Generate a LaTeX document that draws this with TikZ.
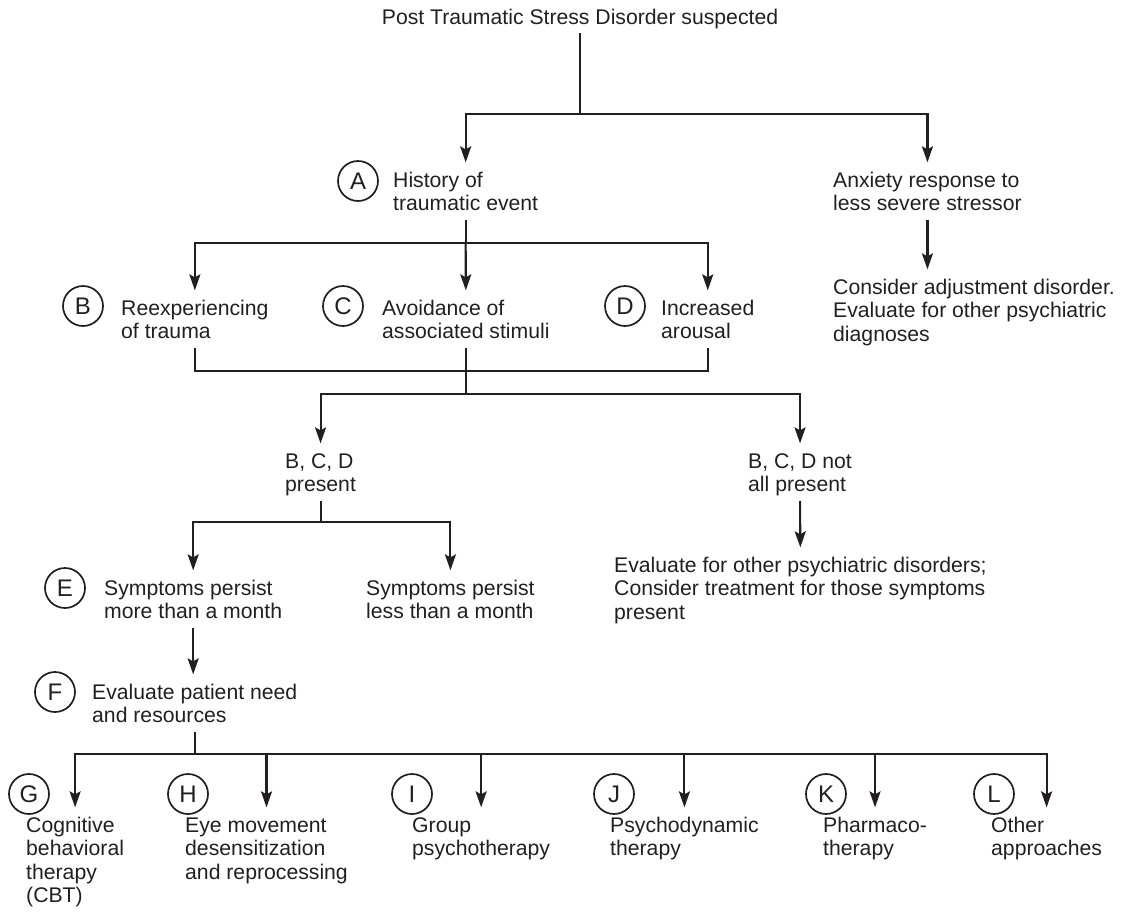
\documentclass[tikz,border=0pt]{standalone}
\usepackage{fontspec}
\setmainfont{Liberation Sans}
\usetikzlibrary{arrows.meta}
\definecolor{ink}{HTML}{231F20}
% left-aligned block of lines whose baseline is that of its first line
\newcommand{\lines}[1]{\begin{tabular}[t]{@{}l@{}}#1\end{tabular}}
\begin{document}
\begin{tikzpicture}[x=1pt,y=-1pt,
  every node/.style={font=\fontsize{21.2}{23.5}\selectfont, text=ink},
  txt/.style={anchor=base west, inner xsep=0pt, inner ysep=2pt},
  lbl/.style={circle, draw=ink, line width=1.7pt, minimum size=40pt, inner sep=0pt,
              font=\fontsize{24}{26}\selectfont},
  link/.style={draw=ink, line width=2.1pt},
  arr/.style={link, shorten >=6pt, -{Stealth[length=16pt,width=11pt,inset=3pt]}}]

\useasboundingbox (0,0) rectangle (1122,911);

% ---- texts ----
\node[txt, anchor=base] (title) at (580,24) {\lines{Post Traumatic Stress Disorder suspected}};

\node[txt] (hist)  at (393,187) {\lines{History of\\traumatic event}};
\node[txt] (anx)   at (833,187) {\lines{Anxiety response to\\less severe stressor}};
\node[txt] (adj)   at (833,294) {\lines{Consider adjustment disorder.\\Evaluate for other psychiatric\\diagnoses}};

\node[txt] (reexp) at (121,315) {\lines{Reexperiencing\\of trauma}};
\node[txt] (avoid) at (382,315) {\lines{Avoidance of\\associated stimuli}};
\node[txt] (arous) at (661,315) {\lines{Increased\\arousal}};

\node[txt] (pres)   at (285,468) {\lines{B, C, D\\present}};
\node[txt] (notall) at (748,468) {\lines{B, C, D not\\all present}};

\node[txt] (more)  at (104,595) {\lines{Symptoms persist\\more than a month}};
\node[txt] (less)  at (366,595) {\lines{Symptoms persist\\less than a month}};
\node[txt] (other) at (614,572) {\lines{Evaluate for other psychiatric disorders;\\Consider treatment for those symptoms\\present}};

\node[txt] (need)  at (92,699) {\lines{Evaluate patient need\\and resources}};

\node[txt] (cbt)     at (26,832)  {\lines{Cognitive\\behavioral\\therapy\\(CBT)}};
\node[txt] (emdr)    at (185,832) {\lines{Eye movement\\desensitization\\and reprocessing}};
\node[txt] (group)   at (412,832) {\lines{Group\\psychotherapy}};
\node[txt] (psy)     at (610,832) {\lines{Psychodynamic\\therapy}};
\node[txt] (pharm)   at (823,832) {\lines{Pharmaco-\\therapy}};
\node[txt] (otherap) at (991,832) {\lines{Other\\approaches}};

% ---- letter markers ----
\node[lbl] (cA) at (358,181) {A};
\node[lbl] (cB) at (83,306)  {B};
\node[lbl] (cC) at (343,306) {C};
\node[lbl] (cD) at (625,306) {D};
\node[lbl] (cE) at (65,588)  {E};
\node[lbl] (cF) at (55,692)  {F};
\node[lbl] (cG) at (29,794)  {G};
\node[lbl] (cH) at (188,794) {H};
\node[lbl] (cI) at (412,794) {I};
\node[lbl] (cJ) at (614,794) {J};
\node[lbl] (cK) at (826,794) {K};
\node[lbl] (cL) at (994,794) {L};

% ---- junctions ----
\coordinate (t1) at (title.south |- 0,114);
\coordinate (j2) at (hist.south |- 0,243);
\coordinate (j3) at (avoid.south |- 0,371);
\coordinate (j4) at (avoid.south |- 0,394);
\coordinate (j5) at (pres.south |- 0,522);
\coordinate (j6) at (need.south |- 0,754);

% ---- connectors ----
\draw[link] (title.south) -- (t1);
\draw[arr] (t1) -| (hist.north);
\draw[arr] (t1) -| (anx.north);
\draw[arr] (anx.south) -- (anx.south |- adj.north);

\draw[link] (hist.south) -- (j2);
\draw[arr] (j2) -| (reexp.north);
\draw[arr] (j2) -- (avoid.north);
\draw[arr] (j2) -| (arous.north);

\draw[link] (reexp.south) |- (j3) -| (arous.south);
\draw[link] (avoid.south) -- (j4);
\draw[arr] (j4) -| (pres.north);
\draw[arr] (j4) -| (notall.north);

\draw[link] (pres.south) -- (j5);
\draw[arr] (j5) -| (more.north);
\draw[arr] (j5) -| (less.north);
\draw[arr] (notall.south) -- (other.north);

\draw[arr] (more.south) -- (more.south |- need.north);

\draw[link] (need.south) -- (j6);
\foreach \t in {cbt,emdr,group,psy,pharm,otherap}
  \draw[arr] (j6) -| (\t.north);
\end{tikzpicture}
\end{document}
